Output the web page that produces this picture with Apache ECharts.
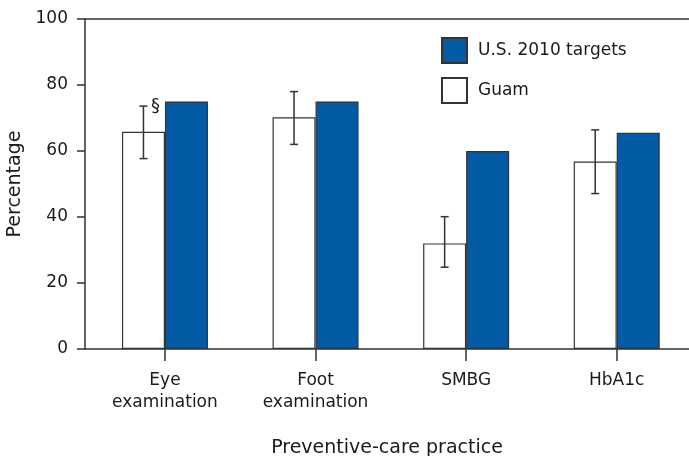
<!DOCTYPE html>
<html>
<head>
<meta charset="utf-8">
<script src="https://cdn.jsdelivr.net/npm/echarts@6/dist/echarts.min.js"></script>
<style>
  html, body { margin: 0; padding: 0; background: #fff; }
  #chart { width: 689px; height: 456px; }
</style>
</head>
<body>
<div id="chart"></div>
<script>
// ---- data ----
const categories = ['Eye\nexamination', 'Foot\nexamination', 'SMBG', 'HbA1c'];
const guamValues = [65.8, 70.2, 32.0, 56.8];
const guamLow = [57.7, 62.0, 24.8, 47.1];
const guamHigh = [73.6, 78.0, 40.1, 66.4];
const usTargets = [75, 75, 60, 65.5];
const notes = ['§', '', '', ''];
const yTicks = [0, 20, 40, 60, 80, 100];

// ---- build ----
const FONT = 'DejaVu Sans';
const TXT = '#1a1a1a';
const LINE = '#333';
const BAR_W = 43;

const idx = categories.map((c, i) => i);
const guamData = idx.map(i => [i, guamValues[i]]);
const usData = idx.map(i => [i, usTargets[i]]);
const errData = idx.map(i => [i, guamLow[i], guamHigh[i]]);

const chart = echarts.init(document.getElementById('chart'), null, { renderer: 'canvas' });

const option = {
  backgroundColor: '#fff',
  animation: false,
  textStyle: { fontFamily: FONT, color: TXT },
  grid: { left: 85, right: 0, top: 19, bottom: 107, containLabel: false, outerBoundsMode: 'none' },
  legend: {
    orient: 'vertical',
    left: 441,
    top: 37,
    padding: 0,
    itemWidth: 25,
    itemHeight: 25,
    itemGap: 13,
    icon: 'rect',
    data: ['U.S. 2010 targets', 'Guam'],
    textStyle: { fontFamily: FONT, fontSize: 17, color: TXT, padding: [0, 0, 0, 6] }
  },
  xAxis: [
    {
      type: 'value',
      min: -0.531,
      max: 3.48,
      position: 'bottom',
      splitLine: { show: false },
      axisLine: { show: true, onZero: false, lineStyle: { color: LINE, width: 1.5 } },
      axisTick: { show: true, customValues: idx, length: 12, lineStyle: { color: LINE, width: 1.5 } },
      axisLabel: {
        customValues: idx,
        formatter: v => categories[Math.round(v)],
        margin: 21,
        fontSize: 17,
        lineHeight: 22,
        color: TXT,
        fontFamily: FONT,
        align: 'center'
      },
      name: 'Preventive-care practice',
      nameLocation: 'middle',
      nameGap: 90,
      nameTextStyle: { fontSize: 19, color: TXT, fontFamily: FONT }
    },
    {
      type: 'value',
      min: -0.531,
      max: 3.48,
      position: 'top',
      splitLine: { show: false },
      axisLine: { show: true, onZero: false, lineStyle: { color: LINE, width: 1.5 } },
      axisTick: { show: false },
      axisLabel: { show: false }
    }
  ],
  yAxis: {
    type: 'value',
    min: 0,
    max: 100,
    interval: 20,
    position: 'left',
    splitLine: { show: false },
    axisLine: { show: true, onZero: false, lineStyle: { color: LINE, width: 1.5 } },
    axisTick: { show: true, length: 8, lineStyle: { color: LINE, width: 1.5 } },
    axisLabel: {
      margin: 17,
      fontSize: 17,
      color: TXT,
      fontFamily: FONT,
      customValues: yTicks
    },
    name: 'Percentage',
    nameLocation: 'middle',
    nameGap: 56,
    nameTextStyle: { fontSize: 19, color: TXT, fontFamily: FONT }
  },
  series: [
    {
      name: 'Guam',
      type: 'bar',
      xAxisIndex: 0,
      data: guamData,
      barWidth: BAR_W,
      barGap: '0%',
      itemStyle: { color: '#fff', borderColor: LINE, borderWidth: 1.2 }
    },
    {
      name: 'U.S. 2010 targets',
      type: 'bar',
      xAxisIndex: 0,
      data: usData,
      barWidth: BAR_W,
      barGap: '0%',
      itemStyle: { color: '#035ba6', borderColor: LINE, borderWidth: 1.2 }
    },
    {
      name: 'err',
      type: 'custom',
      xAxisIndex: 0,
      data: errData,
      encode: { x: 0, y: [1, 2] },
      z: 5,
      silent: true,
      renderItem: function (params, api) {
        const i = api.value(0);
        const lo = api.coord([i, api.value(1)]);
        const hi = api.coord([i, api.value(2)]);
        const x = lo[0] - BAR_W / 2;
        const cap = 4;
        const st = { stroke: LINE, lineWidth: 1.5 };
        const children = [
          { type: 'line', shape: { x1: x, y1: lo[1], x2: x, y2: hi[1] }, style: st },
          { type: 'line', shape: { x1: x - cap, y1: lo[1], x2: x + cap, y2: lo[1] }, style: st },
          { type: 'line', shape: { x1: x - cap, y1: hi[1], x2: x + cap, y2: hi[1] }, style: st }
        ];
        const note = notes[params.dataIndex];
        if (note) {
          children.push({
            type: 'text',
            style: {
              text: note, x: x + 12, y: hi[1], align: 'center', verticalAlign: 'middle',
              fontSize: 18, fontFamily: FONT, fill: TXT
            }
          });
        }
        return { type: 'group', children: children };
      }
    }
  ]
};
chart.setOption(option);
</script>
</body>
</html>
